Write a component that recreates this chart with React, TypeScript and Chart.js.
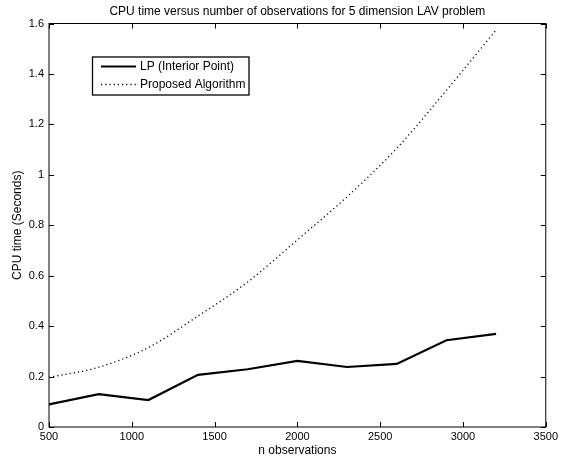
import React, { useEffect, useRef } from "react";
import { Chart, registerables } from "chart.js";

Chart.register(...registerables);

const observations = [500, 800, 1100, 1400, 1700, 2000, 2300, 2600, 2900, 3200];
const lpTimes = [0.09, 0.13, 0.107, 0.207, 0.229, 0.262, 0.238, 0.25, 0.344, 0.369];
const proposedTimes = [0.197, 0.237, 0.315, 0.44, 0.575, 0.742, 0.913, 1.105, 1.335, 1.574];
const seriesLabels = ["LP (Interior Point)", "Proposed Algorithm"];
const chartTitle = "CPU time versus number of observations for 5 dimension LAV problem";
const xTitle = "n observations";
const yTitle = "CPU time (Seconds)";

const FONT = "'Liberation Sans', Arial, Helvetica, sans-serif";

const framePlugin = {
  id: "frame",
  afterDatasetsDraw(chart: any) {
    const { ctx, chartArea: a, scales } = chart;
    ctx.save();
    ctx.strokeStyle = "#000";
    ctx.lineWidth = 1;
    ctx.strokeRect(a.left, a.top, a.right - a.left, a.bottom - a.top);
    const tl = 5;
    ctx.beginPath();
    scales.x.ticks.forEach((t: any) => {
      const px = Math.round(scales.x.getPixelForValue(t.value)) + 0.5;
      ctx.moveTo(px, a.bottom);
      ctx.lineTo(px, a.bottom - tl);
      ctx.moveTo(px, a.top);
      ctx.lineTo(px, a.top + tl);
    });
    scales.y.ticks.forEach((t: any) => {
      const py = Math.round(scales.y.getPixelForValue(t.value)) + 0.5;
      ctx.moveTo(a.left, py);
      ctx.lineTo(a.left + tl, py);
      ctx.moveTo(a.right, py);
      ctx.lineTo(a.right - tl, py);
    });
    ctx.stroke();
    ctx.restore();
  },
  afterDraw(chart: any) {
    const { ctx, chartArea: a } = chart;
    ctx.save();
    // title
    ctx.fillStyle = "#000";
    ctx.font = `12px ${FONT}`;
    ctx.textAlign = "center";
    ctx.textBaseline = "middle";
    ctx.fillText(chartTitle, (a.left + a.right) / 2, 12);
    // legend
    const bx = 92.5, by = 57, bw = 156.5, bh = 38;
    ctx.fillStyle = "#fff";
    ctx.fillRect(bx, by, bw, bh);
    ctx.strokeStyle = "#000";
    ctx.lineWidth = 1.3;
    ctx.strokeRect(bx, by, bw, bh);
    const rows = [66.5, 84.5];
    chart.data.datasets.forEach((ds: any, i: number) => {
      const y = rows[i];
      ctx.beginPath();
      ctx.strokeStyle = ds.borderColor;
      ctx.lineWidth = ds.borderWidth;
      ctx.setLineDash(ds.borderDash || []);
      ctx.moveTo(101, y);
      ctx.lineTo(136, y);
      ctx.stroke();
      ctx.setLineDash([]);
      ctx.fillStyle = "#000";
      ctx.font = `12px ${FONT}`;
      ctx.textAlign = "left";
      ctx.textBaseline = "middle";
      ctx.fillText(ds.label, 140, y);
    });
    ctx.restore();
  },
};

export default function App() {
  const ref = useRef<HTMLCanvasElement | null>(null);
  useEffect(() => {
    if (!ref.current) return;
    const chart = new Chart(ref.current, {
      type: "line",
      data: {
        datasets: [
          {
            label: seriesLabels[0],
            data: observations.map((x, i) => ({ x, y: lpTimes[i] })),
            borderColor: "#000",
            borderWidth: 2.2,
            pointRadius: 0,
            tension: 0,
          },
          {
            label: seriesLabels[1],
            data: observations.map((x, i) => ({ x, y: proposedTimes[i] })),
            borderColor: "#000",
            borderWidth: 1.3,
            borderDash: [1.2, 3],
            pointRadius: 0,
            cubicInterpolationMode: "monotone",
          },
        ],
      },
      options: {
        animation: false,
        responsive: false,
        maintainAspectRatio: false,
        layout: { padding: { top: 23.5, right: 14, bottom: 0, left: 0 } },
        plugins: {
          legend: { display: false },
          title: { display: false },
          tooltip: { enabled: false },
        },
        scales: {
          x: {
            type: "linear",
            min: 500,
            max: 3500,
            border: { display: false },
            grid: { display: false, drawTicks: false },
            ticks: {
              stepSize: 500,
              color: "#000",
              padding: 3,
              maxRotation: 0,
              autoSkip: false,
              font: { family: FONT, size: 11 },
              callback: (v: any) => String(Math.round(Number(v))),
            },
            title: {
              display: true,
              text: xTitle,
              color: "#000",
              font: { family: FONT, size: 12 },
              padding: { top: 0, bottom: 1 },
            },
            afterFit: (s: any) => {
              s.height = 32;
            },
          },
          y: {
            min: 0,
            max: 1.6,
            border: { display: false },
            grid: { display: false, drawTicks: false },
            ticks: {
              stepSize: 0.2,
              color: "#000",
              padding: 5,
              font: { family: FONT, size: 11 },
              callback: (v: any) => String(Number(Number(v).toFixed(1))),
            },
            title: {
              display: true,
              text: yTitle,
              color: "#000",
              font: { family: FONT, size: 12 },
              padding: { top: 10, bottom: 0 },
            },
            afterFit: (s: any) => {
              s.width = 49;
            },
          },
        },
      } as any,
      plugins: [framePlugin],
    });
    return () => chart.destroy();
  }, []);
  return (
    <div style={{ position: "absolute", left: 0, top: 0, width: 561, height: 459, background: "#fff" }}>
      <canvas ref={ref} width={561} height={459} style={{ display: "block", width: 561, height: 459 }} />
    </div>
  );
}
